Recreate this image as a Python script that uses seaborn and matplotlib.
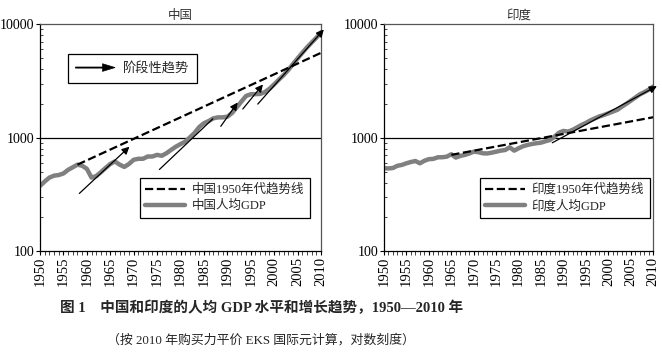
import matplotlib
matplotlib.use('Agg')
import matplotlib.pyplot as plt
import matplotlib.patches as mpatches
from matplotlib.lines import Line2D
from matplotlib.legend_handler import HandlerPatch
from matplotlib.ticker import LogLocator, FixedLocator, FuncFormatter, NullFormatter
import seaborn as sns

# 数据
years = list(range(1950, 2011))
china_gdp = [375, 410, 444, 462, 468, 483, 520, 548, 578, 565,
             531, 444, 458, 496, 540, 586, 617, 578, 552, 586,
             638, 651, 651, 682, 682, 705, 692, 729, 780, 832,
             878, 920, 1005, 1101, 1240, 1340, 1400, 1480, 1510, 1510,
             1530, 1650, 1850, 2080, 2333, 2414, 2420, 2430, 2520, 2700,
             2950, 3250, 3550, 3950, 4450, 5000, 5600, 6250, 6900, 7600,
             8500]
india_gdp = [537, 535, 540, 565, 575, 594, 610, 622, 594, 625,
             646, 650, 671, 672, 680, 714, 667, 690, 704, 725,
             752, 745, 728, 725, 737, 752, 768, 778, 822, 768,
             806, 840, 863, 880, 893, 904, 930, 955, 1021, 1107,
             1146, 1130, 1170, 1230, 1294, 1350, 1420, 1480, 1540, 1585,
             1640, 1700, 1760, 1876, 1990, 2120, 2260, 2410, 2520, 2650,
             2830]

# 1950年代趋势线（起点、终点）
china_trend_years = [1958, 2010]
china_trend_vals = [578, 5600]
india_trend_years = [1965, 2010]
india_trend_vals = [705, 1514]

# 阶段性趋势箭头 (起点年, 起点值, 终点年, 终点值, 是否有箭头)
china_arrows = [(1958.4, 322, 1969.1, 832, True),
                (1975.5, 524, 1986.9, 1466, False),
                (1988.6, 1259, 1992.2, 2042, True),
                (1993.3, 1790, 1997.6, 2946, True),
                (1996.5, 1977, 2010.6, 9000, True)]
india_arrows = [(1987.5, 901, 2010.8, 2850, True)]

sns.set_style('ticks')
plt.rcParams['font.family'] = ['Liberation Serif', 'Noto Sans CJK SC']
plt.rcParams['axes.unicode_minus'] = False

fig = plt.figure(figsize=(6.62, 3.6), dpi=100)
ax1 = fig.add_axes([40 / 662, 1 - 251 / 360, 281 / 662, 226.7 / 360])
ax2 = fig.add_axes([384 / 662, 1 - 251 / 360, 269.3 / 662, 226.7 / 360])

gray = '#808080'


def make_arrow(legend, orig_handle, xdescent, ydescent, width, height, fontsize):
    return mpatches.FancyArrow(0, height / 2, width, 0, width=0.8, head_width=5.5,
                               head_length=9, length_includes_head=True)


def draw_panel(ax, title, gdp, ty, tv, arrows, name):
    ax.axhline(1000, color='black', lw=0.9, zorder=1)
    sns.lineplot(x=ty, y=tv, ax=ax, color='black', lw=1.6, linestyle='--', zorder=3)
    sns.lineplot(x=years, y=gdp, ax=ax, color=gray, lw=3.2, zorder=2)
    for x0, y0, x1, y1, head in arrows:
        style = '-|>' if head else '-'
        ax.annotate('', xy=(x1, y1), xytext=(x0, y0), annotation_clip=False,
                    arrowprops=dict(arrowstyle=style, color='black', lw=0.9,
                                    mutation_scale=11, shrinkA=0, shrinkB=0),
                    zorder=4)
    ax.set_yscale('log')
    ax.set_ylim(100, 10000)
    ax.set_xlim(1950, 2010)
    ax.yaxis.set_major_locator(FixedLocator([100, 1000, 10000]))
    ax.yaxis.set_major_formatter(FuncFormatter(lambda v, p: f'{int(v)}'))
    ax.yaxis.set_minor_locator(LogLocator(base=10, subs=range(2, 10)))
    ax.yaxis.set_minor_formatter(NullFormatter())
    ax.xaxis.set_major_locator(FixedLocator(list(range(1950, 2011, 5))))
    ax.xaxis.set_minor_locator(FixedLocator(years))
    ax.set_xticklabels([str(y) for y in range(1950, 2011, 5)], rotation=90)
    ax.tick_params(axis='both', which='major', length=3, width=0.8,
                   pad=1, colors='black')
    ax.tick_params(axis='x', labelsize=10.5)
    ax.tick_params(axis='y', labelsize=10)
    ax.tick_params(axis='y', which='minor', direction='in', length=2, width=0.6)
    ax.tick_params(axis='x', which='minor', direction='out', length=3, width=0.6)
    for s in ax.spines.values():
        s.set_visible(True)
        s.set_color('#555555')
        s.set_linewidth(0.9)
    ax.spines['left'].set_color('black')
    ax.spines['bottom'].set_color('black')
    ax.set_xlabel('')
    ax.set_ylabel('')
    ax.set_title(title, fontsize=9, color='#333333', pad=4,
                 family=['Noto Sans CJK SC'])
    handles = [Line2D([], [], color='black', lw=1.6, linestyle='--'),
               Line2D([], [], color=gray, lw=3.2)]
    labels = [f'{name}1950年代趋势线', f'{name}人均GDP']
    leg = ax.legend(handles, labels, loc='upper left', bbox_to_anchor=(0.355, 0.322),
                    borderaxespad=0, fontsize=9, frameon=True, fancybox=False,
                    edgecolor='black', framealpha=1, handlelength=3.2,
                    labelspacing=0.3, borderpad=0.45, handletextpad=0.5)
    leg.get_frame().set_linewidth(0.9)
    return leg


leg1 = draw_panel(ax1, '中国', china_gdp, china_trend_years, china_trend_vals,
                  china_arrows, '中国')
draw_panel(ax2, '印度', india_gdp, india_trend_years, india_trend_vals,
           india_arrows, '印度')

# 阶段性趋势图例
ax1.add_artist(leg1)
arrow_handle = mpatches.FancyArrow(0, 0, 1, 0, color='black', lw=0.5)
leg0 = ax1.legend([arrow_handle], ['阶段性趋势'], loc='upper left',
                  bbox_to_anchor=(0.098, 0.868), borderaxespad=0, fontsize=9.5,
                  frameon=True, fancybox=False, edgecolor='black', framealpha=1,
                  handlelength=3.0, borderpad=0.6, handletextpad=0.6,
                  handler_map={mpatches.FancyArrow: HandlerPatch(patch_func=make_arrow)})
leg0.get_frame().set_linewidth(0.9)

fig.text(262 / 662, 1 - 308 / 360, '图 1　中国和印度的人均 GDP 水平和增长趋势，1950—2010 年',
         ha='center', va='center', fontsize=10.5, fontweight='bold')
fig.text(261 / 662, 1 - 340 / 360, '（按 2010 年购买力平价 EKS 国际元计算，对数刻度）',
         ha='center', va='center', fontsize=9.3)

fig.savefig('out.png', dpi=100)
